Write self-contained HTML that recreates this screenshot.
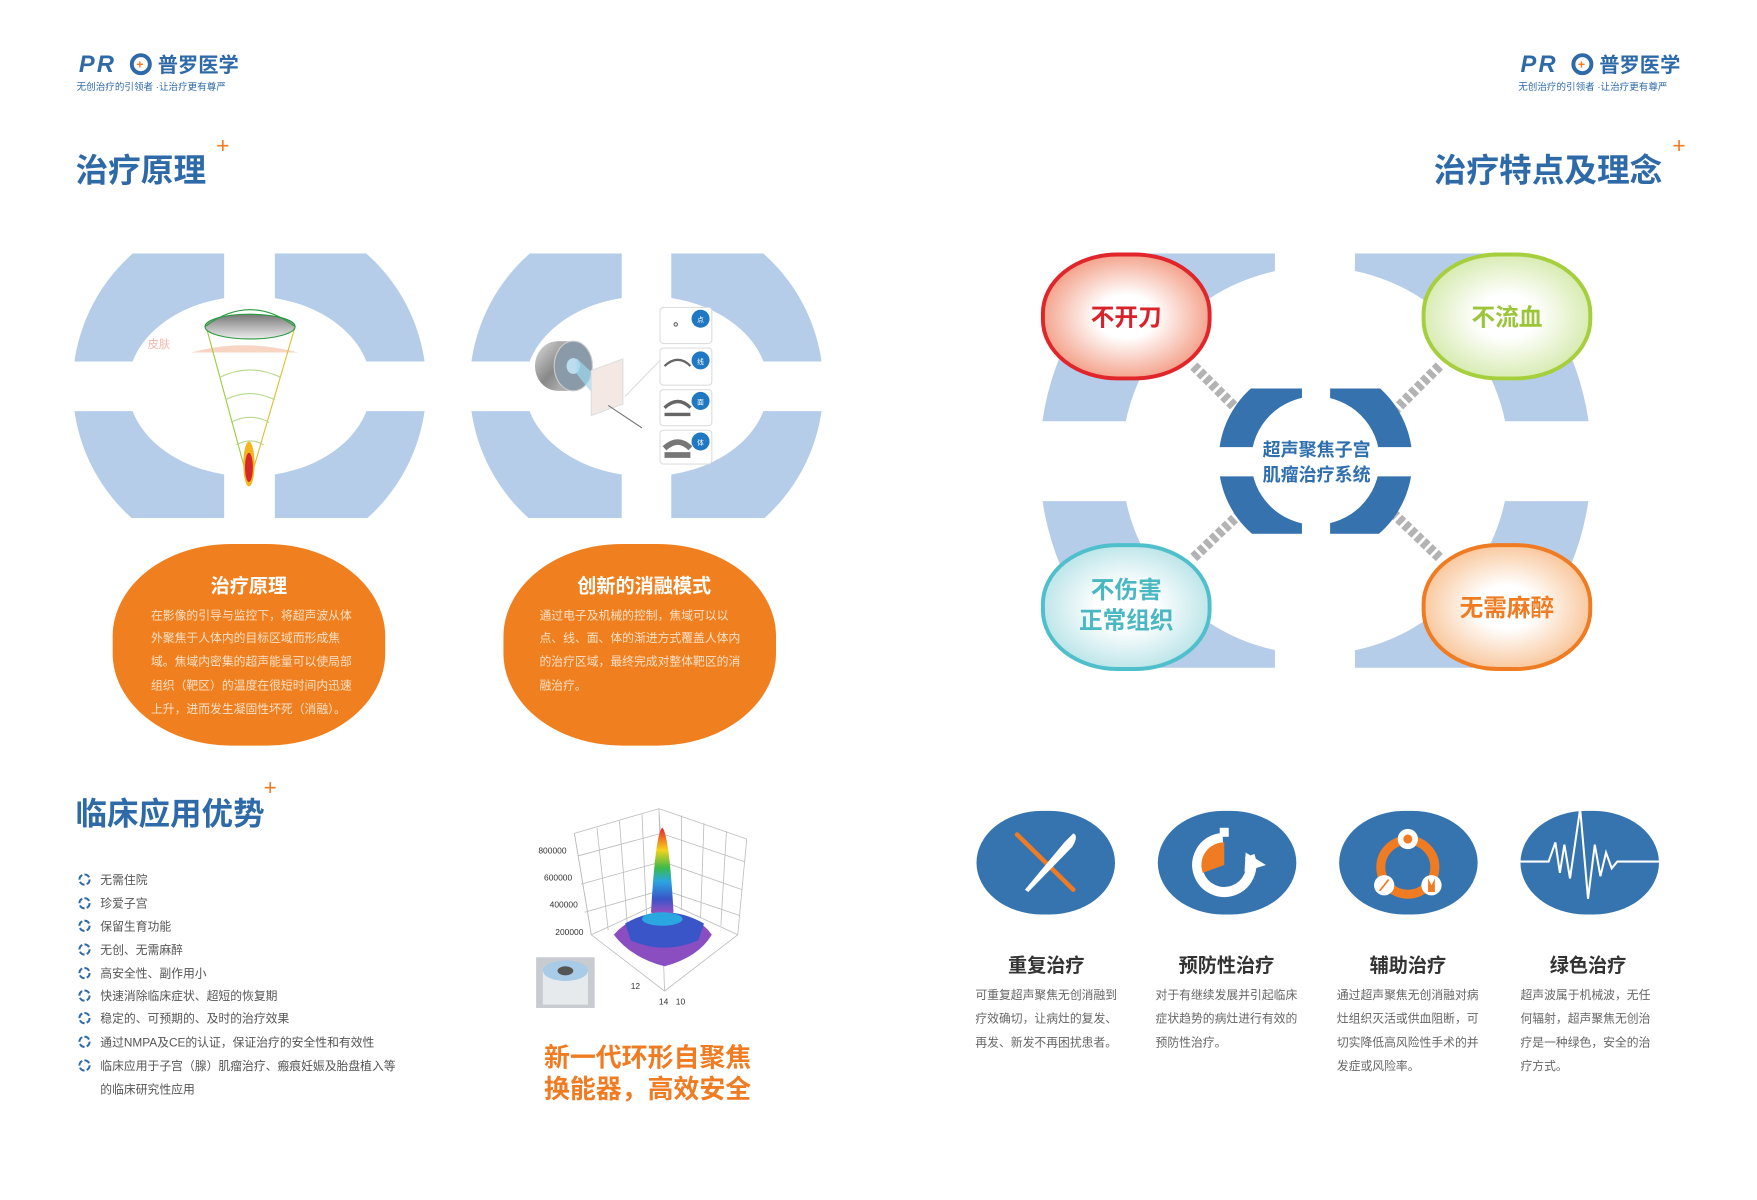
<!DOCTYPE html>
<html><head><meta charset="utf-8"><style>
html,body{margin:0;padding:0;background:#fff;}
svg{display:block;}
text{font-family:"Liberation Sans","Noto Sans CJK SC",sans-serif;}
</style></head><body>
<svg width="1757" height="1200" viewBox="0 0 1560 1065.5" xmlns="http://www.w3.org/2000/svg">
<defs>
<clipPath id="c1"><rect x="55" y="225" width="144" height="96"/><rect x="244" y="225" width="145" height="96"/><rect x="55" y="365" width="144" height="95"/><rect x="244" y="365" width="145" height="95"/></clipPath>
<clipPath id="c2"><rect x="408" y="225" width="144" height="96"/><rect x="596" y="225" width="145" height="96"/><rect x="408" y="365" width="144" height="95"/><rect x="596" y="365" width="145" height="95"/></clipPath>
<clipPath id="c3"><rect x="900" y="225" width="232" height="149"/><rect x="1203" y="225" width="240" height="149"/><rect x="900" y="445" width="232" height="148"/><rect x="1203" y="445" width="240" height="148"/></clipPath>
<clipPath id="c4"><rect x="1075" y="345" width="81" height="52"/><rect x="1181" y="345" width="81" height="52"/><rect x="1075" y="423" width="81" height="51"/><rect x="1181" y="423" width="81" height="51"/></clipPath>
<radialGradient id="gr"><stop offset="0.35" stop-color="#fff"/><stop offset="1" stop-color="#f4a58f"/></radialGradient>
<radialGradient id="gg"><stop offset="0.35" stop-color="#fff"/><stop offset="1" stop-color="#d9ecb4"/></radialGradient>
<radialGradient id="gt"><stop offset="0.35" stop-color="#fff"/><stop offset="1" stop-color="#bfe6ea"/></radialGradient>
<radialGradient id="go"><stop offset="0.35" stop-color="#fff"/><stop offset="1" stop-color="#f9c9a0"/></radialGradient>
<linearGradient id="peak" x1="0" y1="0" x2="0" y2="1"><stop offset="0" stop-color="#e8202a"/><stop offset="0.25" stop-color="#f5d21c"/><stop offset="0.45" stop-color="#3cba4a"/><stop offset="0.6" stop-color="#2aa7e0"/><stop offset="0.8" stop-color="#3a55c8"/><stop offset="1" stop-color="#b04ec0"/></linearGradient>
<linearGradient id="lens" x1="0" y1="0" x2="0" y2="1"><stop offset="0" stop-color="#777"/><stop offset="1" stop-color="#eee"/></linearGradient>
<linearGradient id="cyl" x1="0" y1="0" x2="1" y2="1"><stop offset="0" stop-color="#ddd"/><stop offset="0.5" stop-color="#888"/><stop offset="1" stop-color="#ccc"/></linearGradient>
</defs>

<!-- LEFT LOGO -->
<text x="70" y="64" font-size="21" font-weight="bold" font-style="italic" fill="#2f6aa8" letter-spacing="2">PR</text>
<circle cx="125" cy="57" r="8" fill="none" stroke="#2f6aa8" stroke-width="3.5"/>
<text x="121" y="61" font-size="11" fill="#ef7c22" font-weight="bold">+</text>
<text x="140" y="64" font-size="18" font-weight="bold" fill="#2f6aa8">普罗医学</text>
<text x="68" y="80" font-size="8.5" fill="#2f6aa8">无创治疗的引领者 ·让治疗更有尊严</text>
<!-- RIGHT LOGO -->
<text x="1350" y="64" font-size="21" font-weight="bold" font-style="italic" fill="#2f6aa8" letter-spacing="2">PR</text>
<circle cx="1405" cy="57" r="8" fill="none" stroke="#2f6aa8" stroke-width="3.5"/>
<text x="1401" y="61" font-size="11" fill="#ef7c22" font-weight="bold">+</text>
<text x="1420" y="64" font-size="18" font-weight="bold" fill="#2f6aa8">普罗医学</text>
<text x="1348" y="80" font-size="8.5" fill="#2f6aa8">无创治疗的引领者 ·让治疗更有尊严</text>

<!-- TITLES -->
<text x="67" y="161" font-size="29" font-weight="bold" fill="#2f6aa8">治疗原理</text>
<text x="192" y="136" font-size="20" fill="#ef7c22">+</text>
<text x="1273" y="161" font-size="29" font-weight="bold" fill="#2f6aa8">治疗特点及理念</text>
<text x="1485" y="136" font-size="20" fill="#ef7c22">+</text>
<text x="67" y="732" font-size="28" font-weight="bold" fill="#2f6aa8">临床应用优势</text>
<text x="234" y="706" font-size="20" fill="#ef7c22">+</text>

<!-- RING 1 -->
<path clip-path="url(#c1)" fill-rule="evenodd" fill="#b6cdea" d="M64.5,343 a157,157 0 1,0 314,0 a157,157 0 1,0 -314,0 Z M113.5,343 a108,80 0 1,0 216,0 a108,80 0 1,0 -216,0 Z"/>
<!-- RING 2 -->
<path clip-path="url(#c2)" fill-rule="evenodd" fill="#b6cdea" d="M417,343 a157,157 0 1,0 314,0 a157,157 0 1,0 -314,0 Z M466,343 a108,80 0 1,0 216,0 a108,80 0 1,0 -216,0 Z"/>

<!-- cone illustration -->
<path d="M170,313 Q215,300 265,313 Z" fill="#f6c9b4" opacity="0.8"/>
<text x="131" y="309" font-size="10" fill="#f3b8a8">皮肤</text>
<line x1="183" y1="290" x2="221" y2="430" stroke="#9ccd3c" stroke-width="1"/>
<line x1="262" y1="290" x2="221" y2="430" stroke="#e0c030" stroke-width="1"/>
<path d="M195,335 Q222,322 249,335 M200,355 Q222,344 244,355 M205,375 Q222,366 239,375 M210,395 Q222,388 234,395" fill="none" stroke="#b6d98a" stroke-width="1"/>
<ellipse cx="222" cy="290" rx="40" ry="11" fill="url(#lens)" stroke="#2a9a40" stroke-width="1"/>
<path d="M182,290 Q222,260 262,290" fill="none" stroke="#2a9a40" stroke-width="1"/>
<ellipse cx="221" cy="412" rx="5" ry="20" fill="#f5b51c"/>
<ellipse cx="221" cy="415" rx="3.5" ry="13" fill="#d4282a"/>

<!-- transducer illustration -->
<ellipse cx="495" cy="325" rx="20" ry="22" fill="url(#cyl)"/>
<rect x="495" y="303" width="14" height="44" fill="#aaa"/>
<ellipse cx="509" cy="325" rx="17" ry="22" fill="#8a9aa8" stroke="#ccc"/>
<ellipse cx="509" cy="325" rx="6" ry="7" fill="#bde"/>
<path d="M512,318 L535,340 L528,352 L512,332Z" fill="#9ed8ee" opacity="0.7"/>
<rect x="525" y="330" width="28" height="40" fill="#f3e8e4" stroke="#ddd" transform="skewY(-20) translate(0,190)"/>
<line x1="540" y1="360" x2="570" y2="380" stroke="#777"/>
<line x1="555" y1="352" x2="586" y2="320" stroke="#ddd"/>
<g stroke="#ddd" fill="#fff">
<rect x="586" y="273" width="46" height="32" rx="3"/><rect x="586" y="309" width="46" height="33" rx="3"/><rect x="586" y="346" width="46" height="32" rx="3"/><rect x="586" y="382" width="46" height="30" rx="3"/>
</g>
<g fill="#1f78c1"><circle cx="622" cy="283" r="8"/><circle cx="622" cy="320" r="8"/><circle cx="622" cy="356" r="8"/><circle cx="622" cy="392" r="8"/></g>
<g font-size="6" fill="#fff"><text x="619" y="286">点</text><text x="619" y="323">线</text><text x="619" y="359">面</text><text x="619" y="395">体</text></g>
<circle cx="600" cy="288" r="1.5" fill="none" stroke="#666"/>
<path d="M590,325 Q602,314 613,325" fill="none" stroke="#666" stroke-width="2"/>
<path d="M590,362 Q602,351 613,362 M590,368 L613,368" fill="none" stroke="#666" stroke-width="3"/>
<path d="M590,398 Q602,387 613,398 M590,404 L613,404" fill="none" stroke="#777" stroke-width="5"/>

<!-- ORANGE BLOBS -->
<rect x="100" y="483" width="242" height="179" rx="105" ry="82" fill="#f0801f"/>
<rect x="447" y="483" width="242" height="179" rx="105" ry="82" fill="#f0801f"/>
<text x="221" y="526" font-size="17" font-weight="bold" fill="#fff" text-anchor="middle">治疗原理</text>
<g font-size="10.5" fill="#fde0c8">
<text x="134" y="550">在影像的引导与监控下，将超声波从体</text>
<text x="134" y="570">外聚焦于人体内的目标区域而形成焦</text>
<text x="134" y="591">域。焦域内密集的超声能量可以使局部</text>
<text x="134" y="612">组织（靶区）的温度在很短时间内迅速</text>
<text x="134" y="633">上升，进而发生凝固性坏死（消融）。</text>
</g>
<text x="572" y="526" font-size="17" font-weight="bold" fill="#fff" text-anchor="middle">创新的消融模式</text>
<g font-size="10.5" fill="#fde0c8">
<text x="479" y="550">通过电子及机械的控制，焦域可以以</text>
<text x="479" y="570">点、线、面、体的渐进方式覆盖人体内</text>
<text x="479" y="591">的治疗区域，最终完成对整体靶区的消</text>
<text x="479" y="612">融治疗。</text>
</g>

<!-- BULLETS -->
<g font-size="10.5" fill="#555">
<text x="89" y="785">无需住院</text>
<text x="89" y="806">珍爱子宫</text>
<text x="89" y="826">保留生育功能</text>
<text x="89" y="847">无创、无需麻醉</text>
<text x="89" y="868">高安全性、副作用小</text>
<text x="89" y="888">快速消除临床症状、超短的恢复期</text>
<text x="89" y="908">稳定的、可预期的、及时的治疗效果</text>
<text x="89" y="929">通过NMPA及CE的认证，保证治疗的安全性和有效性</text>
<text x="89" y="950">临床应用于子宫（腺）肌瘤治疗、瘢痕妊娠及胎盘植入等</text>
<text x="89" y="971">的临床研究性应用</text>
</g>
<g fill="none" stroke="#2f6aa8" stroke-width="1.8">
<circle cx="75" cy="781" r="4.5" stroke-dasharray="5 2"/><circle cx="75" cy="802" r="4.5" stroke-dasharray="5 2"/><circle cx="75" cy="822" r="4.5" stroke-dasharray="5 2"/><circle cx="75" cy="843" r="4.5" stroke-dasharray="5 2"/><circle cx="75" cy="864" r="4.5" stroke-dasharray="5 2"/><circle cx="75" cy="884" r="4.5" stroke-dasharray="5 2"/><circle cx="75" cy="904" r="4.5" stroke-dasharray="5 2"/><circle cx="75" cy="925" r="4.5" stroke-dasharray="5 2"/><circle cx="75" cy="946" r="4.5" stroke-dasharray="5 2"/>
</g>

<!-- 3D CHART -->
<g stroke="#bbb" stroke-width="0.7" fill="none">
<path d="M510,740 L585,718 L663,745 L655,830 L590,880 L525,830 Z"/>
<path d="M510,740 L525,830 M585,718 L590,880 M525,830 L590,800 L655,830 M590,800 L585,718"/>
<path d="M530,735 L540,826 M550,729 L557,822 M570,723 L574,812 M605,724 L605,808 M625,731 L622,815 M645,738 L640,822 M513,760 L587,740 L661,765 M516,785 L588,765 L659,790 M519,810 L589,790 L657,813"/>
</g>
<g font-size="7.5" fill="#333">
<text x="478" y="758">800000</text><text x="483" y="782">600000</text><text x="488" y="806">400000</text><text x="493" y="830">200000</text>
<text x="560" y="878">12</text><text x="585" y="892">14</text><text x="600" y="892">10</text>
</g>
<path d="M545,830 Q560,812 590,812 Q620,812 632,830 Q620,850 590,858 Q560,850 545,830Z" fill="#8a4ec0"/>
<path d="M555,820 Q590,800 625,820 L620,835 Q590,848 560,835Z" fill="#3a55c8"/>
<path d="M578,810 Q582,740 588,735 Q594,740 598,810 Q588,818 578,810Z" fill="url(#peak)"/>
<ellipse cx="588" cy="816" rx="18" ry="6" fill="#2aa7e0"/>
<rect x="476" y="850" width="52" height="45" fill="#c8ccd0"/>
<ellipse cx="502" cy="862" rx="20" ry="9" fill="#9cc3e2"/>
<ellipse cx="502" cy="862" rx="7" ry="4" fill="#555"/>
<rect x="482" y="862" width="40" height="30" fill="#e6eaed"/>
<ellipse cx="502" cy="862" rx="20" ry="9" fill="#a8cbe8"/>
<ellipse cx="502" cy="862" rx="7" ry="4" fill="#555"/>

<text x="483" y="947" font-size="23" font-weight="bold" fill="#ef7c22">新一代环形自聚焦</text>
<text x="483" y="975" font-size="23" font-weight="bold" fill="#ef7c22">换能器，高效安全</text>

<!-- BIG RING -->
<path clip-path="url(#c3)" fill-rule="evenodd" fill="#b6cdea" d="M923,409 a245,245 0 1,0 490,0 a245,245 0 1,0 -490,0 Z M996,409 a172,172 0 1,0 344,0 a172,172 0 1,0 -344,0 Z"/>
<!-- connectors -->
<g stroke="#b3b3b3" stroke-width="9" stroke-dasharray="5 2.5">
<line x1="1060" y1="325" x2="1105" y2="370"/>
<line x1="1278" y1="325" x2="1233" y2="370"/>
<line x1="1060" y1="495" x2="1105" y2="452"/>
<line x1="1278" y1="495" x2="1233" y2="452"/>
</g>
<!-- center ring -->
<path clip-path="url(#c4)" fill-rule="evenodd" fill="#3572ae" d="M1082,409 a86,86 0 1,0 172,0 a86,86 0 1,0 -172,0 Z M1111,409 a57,57 0 1,0 114,0 a57,57 0 1,0 -114,0 Z"/>
<text x="1169" y="405" font-size="16" fill="#2f6fae" text-anchor="middle" font-weight="bold">超声聚焦子宫</text>
<text x="1169" y="427" font-size="16" fill="#2f6fae" text-anchor="middle" font-weight="bold">肌瘤治疗系统</text>
<!-- nodes -->
<rect x="926" y="226" width="148" height="110" rx="66" ry="52" fill="url(#gr)" stroke="#e0252b" stroke-width="3.5"/>
<rect x="1264" y="226" width="148" height="110" rx="66" ry="52" fill="url(#gg)" stroke="#a5cf3c" stroke-width="3.5"/>
<rect x="926" y="484" width="148" height="110" rx="66" ry="52" fill="url(#gt)" stroke="#4fc0cb" stroke-width="3.5"/>
<rect x="1264" y="484" width="148" height="110" rx="66" ry="52" fill="url(#go)" stroke="#ef7c22" stroke-width="3.5"/>
<text x="1000" y="289" font-size="21" fill="#d8232a" text-anchor="middle" font-weight="bold">不开刀</text>
<text x="1338" y="289" font-size="21" fill="#9cc63a" text-anchor="middle" font-weight="bold">不流血</text>
<text x="1000" y="531" font-size="21" fill="#4ab8c3" text-anchor="middle" font-weight="bold">不伤害</text>
<text x="1000" y="558" font-size="21" fill="#4ab8c3" text-anchor="middle" font-weight="bold">正常组织</text>
<text x="1338" y="547" font-size="21" fill="#ef7c22" text-anchor="middle" font-weight="bold">无需麻醉</text>

<!-- ICONS -->
<g fill="#3674b0">
<rect x="867" y="720" width="123" height="92" rx="58" ry="46"/>
<rect x="1028" y="720" width="123" height="92" rx="58" ry="46"/>
<rect x="1189" y="720" width="123" height="92" rx="58" ry="46"/>
<rect x="1350" y="720" width="123" height="92" rx="58" ry="46"/>
</g>
<line x1="903" y1="741" x2="953" y2="790" stroke="#ef7c22" stroke-width="4" stroke-linecap="round"/>
<path d="M953,740 Q958,742 952,752 L913,792 L910,790 L945,748Z" fill="#fff"/>
<circle cx="1087" cy="768" r="24" fill="none" stroke="#fff" stroke-width="9" stroke-dasharray="120 40" transform="rotate(-20 1087 768)"/>
<path d="M1087,768 L1087,748 A20,20 0 0,0 1068,775 Z" fill="#ef7c22"/>
<rect x="1083" y="735" width="8" height="8" fill="#fff"/>
<path d="M1106,757 L1124,768 L1105,774Z" fill="#fff"/>
<circle cx="1250" cy="770" r="24" fill="none" stroke="#ef7c22" stroke-width="8"/>
<circle cx="1250" cy="745" r="9" fill="#fff"/><circle cx="1250" cy="745" r="4" fill="#ef7c22"/>
<circle cx="1229" cy="786" r="9" fill="#fff"/><circle cx="1271" cy="786" r="9" fill="#fff"/>
<line x1="1225" y1="791" x2="1233" y2="781" stroke="#ef7c22" stroke-width="1.5"/>
<path d="M1268,792 L1268,780 L1271,786 L1274,780 L1274,792Z" fill="#ef7c22"/>
<polyline points="1350,765 1375,765 1381,748 1385,775 1389,750 1394,780 1403,718 1410,798 1416,750 1421,778 1426,757 1431,771 1436,765 1473,765" fill="none" stroke="#fff" stroke-width="1.8"/>

<g font-size="17" font-weight="bold" fill="#333" text-anchor="middle">
<text x="929" y="863">重复治疗</text><text x="1089" y="863">预防性治疗</text><text x="1250" y="863">辅助治疗</text><text x="1410" y="863">绿色治疗</text>
</g>
<g font-size="10.5" fill="#666">
<text x="866" y="887">可重复超声聚焦无创消融到</text><text x="866" y="908">疗效确切，让病灶的复发、</text><text x="866" y="929">再发、新发不再困扰患者。</text>
<text x="1026" y="887">对于有继续发展并引起临床</text><text x="1026" y="908">症状趋势的病灶进行有效的</text><text x="1026" y="929">预防性治疗。</text>
<text x="1187" y="887">通过超声聚焦无创消融对病</text><text x="1187" y="908">灶组织灭活或供血阻断，可</text><text x="1187" y="929">切实降低高风险性手术的并</text><text x="1187" y="950">发症或风险率。</text>
<text x="1350" y="887">超声波属于机械波，无任</text><text x="1350" y="908">何辐射，超声聚焦无创治</text><text x="1350" y="929">疗是一种绿色，安全的治</text><text x="1350" y="950">疗方式。</text>
</g>
</svg>
</body></html>
